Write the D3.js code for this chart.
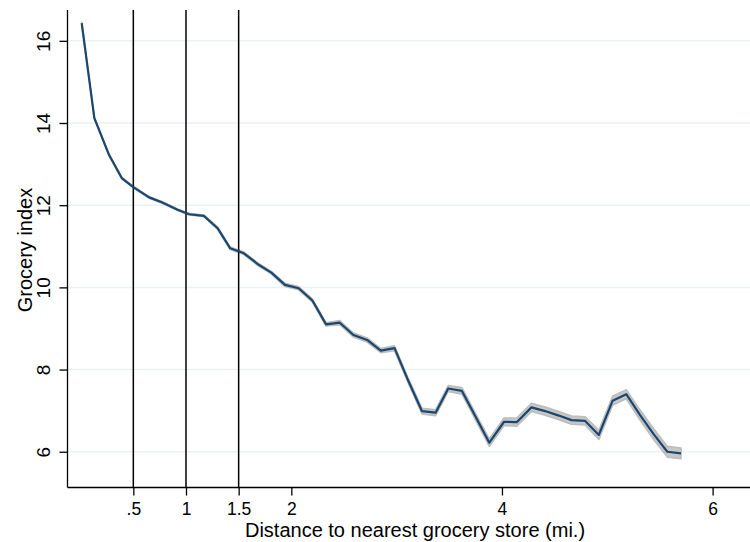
<!DOCTYPE html>
<html>
<head>
<meta charset="utf-8">
<script src="https://cdn.jsdelivr.net/npm/d3@7"></script>
<style>
  html, body { margin: 0; padding: 0; background: #fff; }
  svg { display: block; }
  text { font-family: "Liberation Sans", Arial, Helvetica, sans-serif; fill: #000; }
</style>
</head>
<body>
<svg id="chart" width="750" height="542"></svg>
<script>
// Binned distance to nearest grocery store (miles)
const distance = [0.01, 0.13, 0.27, 0.39, 0.50, 0.65, 0.77, 0.92, 1.03, 1.17,
  1.30, 1.42, 1.55, 1.69, 1.81, 1.94, 2.07, 2.20, 2.33, 2.46,
  2.59, 2.72, 2.85, 2.98, 3.10, 3.24, 3.37, 3.49, 3.62, 3.75,
  3.88, 4.02, 4.14, 4.28, 4.41, 4.54, 4.66, 4.79, 4.92, 5.05,
  5.18, 5.31, 5.44, 5.57, 5.70];

// Mean grocery index in each bin
const groceryIndex = [16.43, 14.12, 13.22, 12.66, 12.44, 12.19, 12.07, 11.89, 11.78, 11.74,
  11.44, 10.95, 10.83, 10.55, 10.36, 10.06, 9.98, 9.68, 9.10, 9.14,
  8.84, 8.72, 8.46, 8.52, 7.79, 6.99, 6.95, 7.54, 7.48, 6.85,
  6.22, 6.73, 6.72, 7.08, 6.99, 6.88, 6.77, 6.75, 6.41, 7.24,
  7.40, 6.90, 6.43, 6.00, 5.96];

// Confidence band around the mean
const ciLower = [16.41, 14.10, 13.20, 12.64, 12.42, 12.17, 12.05, 11.87, 11.76, 11.72,
  11.41, 10.92, 10.80, 10.52, 10.33, 10.02, 9.94, 9.64, 9.06, 9.09,
  8.79, 8.67, 8.41, 8.46, 7.73, 6.92, 6.88, 7.47, 7.40, 6.77,
  6.13, 6.64, 6.62, 6.98, 6.89, 6.78, 6.67, 6.65, 6.30, 7.13,
  7.29, 6.78, 6.30, 5.87, 5.83];
const ciUpper = [16.45, 14.14, 13.24, 12.68, 12.46, 12.21, 12.09, 11.91, 11.80, 11.76,
  11.47, 10.98, 10.86, 10.58, 10.39, 10.10, 10.02, 9.72, 9.14, 9.19,
  8.89, 8.77, 8.51, 8.58, 7.85, 7.06, 7.02, 7.61, 7.56, 6.93,
  6.31, 6.82, 6.82, 7.18, 7.09, 6.98, 6.87, 6.85, 6.52, 7.35,
  7.51, 7.02, 6.56, 6.13, 6.09];

const xTicks = [0.5, 1, 1.5, 2, 4, 6];
const xTickLabels = [".5", "1", "1.5", "2", "4", "6"];
const yTicks = [6, 8, 10, 12, 14, 16];
const cutoffs = [0.5, 1, 1.5];

const svg = d3.select("#chart");
const plotLeft = 67.5, plotRight = 750, plotTop = 10, plotBottom = 487.5;
const fontFamily = "'Liberation Sans', Arial, sans-serif";

const x = d3.scaleLinear().domain([-0.125, 6.355]).range([plotLeft, plotRight]);
const y = d3.scaleLinear().domain([5.13, 16.75]).range([plotBottom, plotTop]);

// horizontal gridlines
svg.append("g").selectAll("line").data(yTicks).join("line")
  .attr("x1", plotLeft).attr("x2", plotRight)
  .attr("y1", d => y(d)).attr("y2", d => y(d))
  .attr("stroke", "#eaf2f3").attr("stroke-width", 1.5);

// confidence band
const rows = distance.map((d, i) => ({ d, v: groceryIndex[i], lo: ciLower[i], hi: ciUpper[i] }));
svg.append("path").datum(rows)
  .attr("d", d3.area().x(r => x(r.d)).y0(r => y(r.lo)).y1(r => y(r.hi)))
  .attr("fill", "#bdbdbd").attr("fill-opacity", 0.85)
  .attr("stroke", "#bdbdbd").attr("stroke-width", 1.6).attr("stroke-linejoin", "round");

// reference lines at distance cutoffs
svg.append("g").selectAll("line").data(cutoffs).join("line")
  .attr("x1", d => x(d)).attr("x2", d => x(d))
  .attr("y1", plotTop).attr("y2", plotBottom)
  .attr("stroke", "#000").attr("stroke-width", 1.5);

// mean line
svg.append("path").datum(rows)
  .attr("d", d3.line().x(r => x(r.d)).y(r => y(r.v)))
  .attr("fill", "none").attr("stroke", "#1a476f").attr("stroke-width", 2.2)
  .attr("stroke-linejoin", "round");

// y axis
const yAxis = svg.append("g").attr("transform", `translate(${plotLeft},0)`)
  .call(d3.axisLeft(y).tickValues(yTicks).tickSize(8).tickFormat(d3.format("d")));
yAxis.select(".domain").attr("d", `M0,${plotTop}V${plotBottom}`).attr("stroke", "#000").attr("stroke-width", 1.3);
yAxis.selectAll(".tick line").attr("stroke", "#000").attr("stroke-width", 1.3);
yAxis.selectAll(".tick text")
  .attr("x", null).attr("dy", null)
  .attr("transform", "translate(-17.5,0) rotate(-90)")
  .attr("text-anchor", "middle")
  .style("font-size", "19px").style("font-family", fontFamily);

// x axis
const xAxis = svg.append("g").attr("transform", `translate(0,${plotBottom})`)
  .call(d3.axisBottom(x).tickValues(xTicks).tickSize(8)
    .tickFormat((d, i) => xTickLabels[i]));
xAxis.select(".domain").attr("d", `M${plotLeft},0H${plotRight}`).attr("stroke", "#000").attr("stroke-width", 1.3);
xAxis.selectAll(".tick line").attr("stroke", "#000").attr("stroke-width", 1.3);
xAxis.selectAll(".tick text")
  .attr("y", 27).attr("dy", null)
  .style("font-size", "17.5px").style("font-family", fontFamily);

// axis titles
svg.append("text")
  .attr("transform", "translate(31.5,250) rotate(-90)")
  .attr("text-anchor", "middle").style("font-size", "20px")
  .text("Grocery index");
svg.append("text")
  .attr("x", 415).attr("y", 536.5)
  .attr("text-anchor", "middle").style("font-size", "20px")
  .text("Distance to nearest grocery store (mi.)");
</script>
</body>
</html>
